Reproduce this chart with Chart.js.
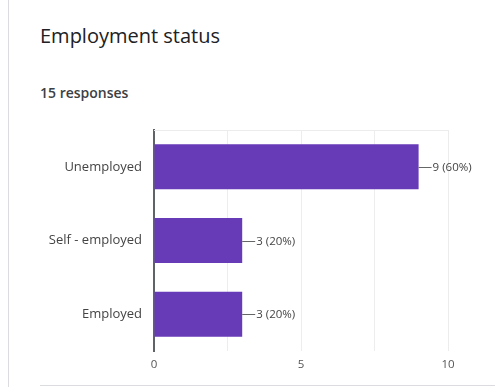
<!DOCTYPE html>
<html>
<head>
<meta charset="utf-8">
<script src="https://cdn.jsdelivr.net/npm/chart.js@4"></script>
<style>
  html, body { margin: 0; padding: 0; background: #fff; }
  body { width: 503px; height: 387px; position: relative; overflow: hidden; font-family: 'Open Sans', Roboto, sans-serif; }
  .card-edge { position: absolute; left: 8px; top: 0; width: 1px; height: 387px; background: #dadce0; }
  .card-foot { position: absolute; left: 40px; top: 385px; width: 455px; height: 1px; background: #dadce0; }
  h1 { position: absolute; left: 40px; top: 22px; margin: 0; font-size: 20px; font-weight: 400; color: #202124; }
  .count { position: absolute; left: 40px; top: 83px; margin: 0; font-size: 14px; font-weight: 600; color: #3c4043; }
  #wrap { position: absolute; left: 0; top: 0; width: 503px; height: 387px; }
</style>
</head>
<body>
<div class="card-edge"></div>
<div class="card-foot"></div>
<h1>Employment status</h1>
<p class="count">15 responses</p>
<div id="wrap"><canvas id="statusChart"></canvas></div>

<script>
// ----------------------------------------
// Data
// ----------------------------------------
const categories = ['Unemployed', 'Self - employed', 'Employed'];
const counts = [9, 3, 3];
const totalResponses = 15;
const tickLabels = [0, 5, 10];

const labelFont = "'Open Sans', sans-serif";

// ----------------------------------------
// Value labels with a short leader line
// ----------------------------------------
const valueLabels = {
  id: 'valueLabels',
  afterDatasetsDraw(chart) {
    const { ctx } = chart;
    const meta = chart.getDatasetMeta(0);
    ctx.save();
    ctx.font = "11.5px " + labelFont;
    ctx.fillStyle = '#444';
    ctx.strokeStyle = '#666';
    ctx.lineWidth = 1;
    ctx.textBaseline = 'middle';
    meta.data.forEach((bar, i) => {
      const v = counts[i];
      const pct = Math.round(v / totalResponses * 100);
      const y = Math.round(bar.y) + 0.5;
      ctx.beginPath();
      ctx.moveTo(bar.x, y);
      ctx.lineTo(bar.x + 13, y);
      ctx.stroke();
      ctx.fillText(v + ' (' + pct + '%)', bar.x + 14, y);
    });
    ctx.restore();
  }
};

// light frame around the plot area
const plotFrame = {
  id: 'plotFrame',
  beforeDatasetsDraw(chart) {
    const { ctx, chartArea: a } = chart;
    ctx.save();
    ctx.strokeStyle = '#ececec';
    ctx.lineWidth = 1;
    ctx.beginPath();
    ctx.moveTo(a.left, a.top + 0.5);
    ctx.lineTo(a.right + 0.5, a.top + 0.5);
    ctx.lineTo(a.right + 0.5, a.bottom);
    ctx.stroke();
    ctx.restore();
  }
};

new Chart(document.getElementById('statusChart'), {
  type: 'bar',
  data: {
    labels: categories,
    datasets: [{
      data: counts,
      backgroundColor: '#673ab7',
      borderWidth: 0,
      categoryPercentage: 1,
      barPercentage: 0.61
    }]
  },
  options: {
    indexAxis: 'y',
    responsive: true,
    maintainAspectRatio: false,
    animation: false,
    layout: { padding: { top: 130, right: 55, left: 0, bottom: 0 } },
    plugins: {
      legend: { display: false },
      tooltip: { enabled: false }
    },
    scales: {
      x: {
        min: 0,
        max: 10,
        afterFit(scale) { scale.height = 36; },
        afterBuildTicks(scale) {
          scale.ticks = [0, 2.5, 5, 7.5, 10].map(v => ({ value: v }));
        },
        border: { display: false },
        grid: { color: '#ededed', drawTicks: false },
        ticks: {
          padding: 7,
          color: '#555',
          font: { family: labelFont, size: 11.5 },
          callback: (v) => tickLabels.includes(v) ? String(v) : ''
        }
      },
      y: {
        afterFit(scale) { scale.width = 154; },
        border: { display: true, color: '#5f6368', width: 2 },
        grid: { display: false },
        ticks: {
          padding: 4,
          color: '#444',
          font: { family: labelFont, size: 13 }
        }
      }
    }
  },
  plugins: [plotFrame, valueLabels]
});
</script>
</body>
</html>
